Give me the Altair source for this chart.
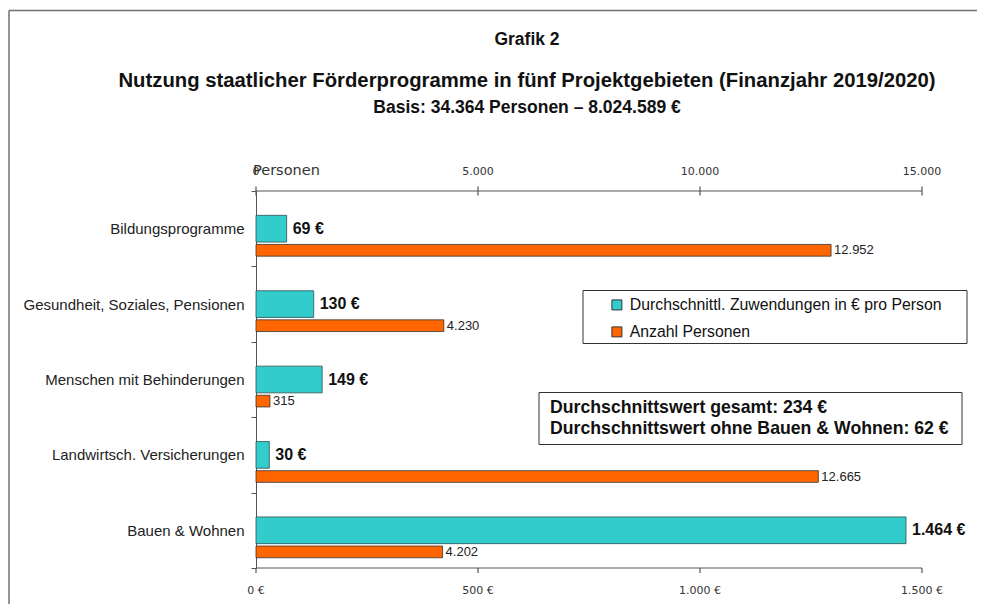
import altair as alt
import pandas as pd

# ---------------- data ----------------
categories = [
    "Bildungsprogramme",
    "Gesundheit, Soziales, Pensionen",
    "Menschen mit Behinderungen",
    "Landwirtsch. Versicherungen",
    "Bauen & Wohnen",
]
euro_per_person = [69, 130, 149, 30, 1464]
persons = [12952, 4230, 315, 12665, 4202]
series_names = ["Durchschnittl. Zuwendungen in € pro Person", "Anzahl Personen"]
series_colors = ["#33CCCC", "#FF6600"]
euro_ticks = [0, 500, 1000, 1500]
person_ticks = [0, 5000, 10000, 15000]
title_lines = [
    "Grafik 2",
    "Nutzung staatlicher Förderprogramme in fünf Projektgebieten (Finanzjahr 2019/2020)",
    "Basis: 34.364 Personen – 8.024.589 €",
]
person_axis_title = "Personen"
note_lines = [
    "Durchschnittswert gesamt: 234 €",
    "Durchschnittswert ohne Bauen & Wohnen: 62 €",
]


def de(v):
    return f"{v:,}".replace(",", ".")


euro_df = pd.DataFrame({
    "cat": categories,
    "value": euro_per_person,
    "series": series_names[0],
    "label": [de(v) + " €" for v in euro_per_person],
})
pers_df = pd.DataFrame({
    "cat": categories,
    "value": persons,
    "series": series_names[1],
    "label": [de(v) for v in persons],
})
euro_tick_df = pd.DataFrame({"value": euro_ticks, "label": [de(v) + " €" for v in euro_ticks]})
pers_tick_df = pd.DataFrame({"value": person_ticks, "label": [de(v) for v in person_ticks]})
one = pd.DataFrame({"a": [0]})

W, H = 666, 377
ORANGE_OFF = 21.6
AX = "#555555"

yscale = alt.Scale(paddingInner=0, paddingOuter=0)
y_axis_def = alt.Axis(
    orient="left", tickBand="extent", domainColor=AX, tickColor=AX,
    tickSize=5, labelFont="Liberation Sans", labelFontSize=15,
    labelColor="#222", labelPadding=7, labelLimit=300, title=None,
)
y_enc = alt.Y("cat:N", sort=categories, title=None, scale=yscale, axis=y_axis_def)

color = alt.Color(
    "series:N",
    scale=alt.Scale(domain=series_names, range=series_colors),
    legend=alt.Legend(
        title=None, orient="none", legendX=353, legendY=106, direction="vertical",
        symbolType="square", symbolSize=100, symbolStrokeColor="#333",
        symbolStrokeWidth=1, labelFont="Liberation Sans", labelFontSize=15.8,
        labelColor="#111", rowPadding=10, labelOffset=5, padding=0, labelLimit=400,
    ),
)

euro_scale = alt.Scale(domain=[0, 1500], nice=False)
pers_scale = alt.Scale(domain=[0, 15000], nice=False)
euro_x = alt.X("value:Q", scale=euro_scale, axis=None)
pers_x = alt.X("value:Q", scale=pers_scale, axis=None)

tick_label_style = dict(font="DejaVu Sans", fontSize=11, color="#333",
                        align="center", baseline="alphabetic")

# euro (bottom) axis: line, ticks, labels; teal bars and value labels
euro_domain = alt.Chart(one).mark_rule(stroke=AX, strokeWidth=1.2).encode(
    x=alt.value(0), x2=alt.value(W), y=alt.value(H)
)
euro_tickmarks = alt.Chart(euro_tick_df).mark_rule(stroke=AX, strokeWidth=1.2).encode(
    x=euro_x, y=alt.value(H), y2=alt.value(H + 5)
)
euro_ticklabels = alt.Chart(euro_tick_df).mark_text(**tick_label_style).encode(
    x=euro_x, y=alt.value(H + 25.6), text="label:N"
)
teal = alt.Chart(euro_df).mark_bar(height=26.7, stroke="#2f4f4f", strokeWidth=0.8).encode(
    x=euro_x, y=y_enc, color=color,
)
teal_text = alt.Chart(euro_df).mark_text(
    align="left", baseline="middle", dx=6, font="Liberation Sans",
    fontSize=16, fontWeight="bold", color="#111",
).encode(x=euro_x, y=y_enc, text="label:N")
euro_layer = alt.layer(euro_domain, euro_tickmarks, euro_ticklabels, teal, teal_text)

# persons (top) axis: line, ticks, labels; orange bars and value labels
pers_domain = alt.Chart(one).mark_rule(stroke=AX, strokeWidth=1.2).encode(
    x=alt.value(0), x2=alt.value(W), y=alt.value(0)
)
pers_tickmarks = alt.Chart(pers_tick_df).mark_rule(stroke=AX, strokeWidth=1.2).encode(
    x=pers_x, y=alt.value(-4.5), y2=alt.value(4.5)
)
pers_ticklabels = alt.Chart(pers_tick_df).mark_text(**tick_label_style).encode(
    x=pers_x, y=alt.value(-16.4), text="label:N"
)
pers_title = alt.Chart(one).mark_text(
    font="DejaVu Sans", fontSize=14.5, color="#333", align="left", baseline="alphabetic"
).encode(x=alt.value(-3), y=alt.value(-16.5), text=alt.value(person_axis_title))
orange = alt.Chart(pers_df).mark_bar(
    height=11.7, yOffset=ORANGE_OFF, stroke="#333", strokeWidth=0.8
).encode(x=pers_x, y=y_enc, color=color)
orange_text = alt.Chart(pers_df).mark_text(
    align="left", baseline="middle", dx=3, dy=ORANGE_OFF,
    font="Liberation Sans", fontSize=13, color="#222",
).encode(x=pers_x, y=y_enc, text="label:N")
pers_layer = alt.layer(pers_domain, pers_tickmarks, pers_ticklabels, pers_title,
                       orange, orange_text)

# ---------------- decorations ----------------
frame_top = alt.Chart(one).mark_rule(stroke="#707070", strokeWidth=1.5).encode(
    x=alt.value(-247), x2=alt.value(900), y=alt.value(-180.5)
)
frame_left = alt.Chart(one).mark_rule(stroke="#707070", strokeWidth=1.5).encode(
    x=alt.value(-247), y=alt.value(-180.5), y2=alt.value(700)
)

t1 = alt.Chart(one).mark_text(
    align="center", baseline="alphabetic", font="Liberation Sans", fontSize=17.5,
    fontWeight="bold", color="#111",
).encode(x=alt.value(271), y=alt.value(-146.5), text=alt.value(title_lines[0]))
t2 = alt.Chart(one).mark_text(
    align="center", baseline="alphabetic", font="Liberation Sans", fontSize=20.3,
    fontWeight="bold", color="#111",
).encode(x=alt.value(271), y=alt.value(-104), text=alt.value(title_lines[1]))
t3 = alt.Chart(one).mark_text(
    align="center", baseline="alphabetic", font="Liberation Sans", fontSize=17.5,
    fontWeight="bold", color="#111",
).encode(x=alt.value(271), y=alt.value(-78.5), text=alt.value(title_lines[2]))

legend_box = alt.Chart(one).mark_rect(fill="white", stroke="#333", strokeWidth=1).encode(
    x=alt.value(327), x2=alt.value(711), y=alt.value(99.5), y2=alt.value(152.5)
)
note_box = alt.Chart(one).mark_rect(fill="white", stroke="#333", strokeWidth=1).encode(
    x=alt.value(283), x2=alt.value(706), y=alt.value(201.5), y2=alt.value(253.5)
)
note_text = alt.Chart(one).mark_text(
    align="left", baseline="alphabetic", font="Liberation Sans", fontSize=17.7,
    fontWeight="bold", color="#111", lineHeight=21.3,
).encode(x=alt.value(294), y=alt.value(222.2), text=alt.value(note_lines))

chart = alt.layer(
    frame_top, frame_left, t1, t2, t3, legend_box, note_box, note_text,
    euro_layer, pers_layer,
).resolve_scale(x="independent").properties(
    width=W, height=H,
    background="white",
    autosize=alt.AutoSizeParams(type="none"),
    padding={"left": 248, "top": 183, "right": 55, "bottom": 36},
).configure_view(stroke=None, strokeWidth=0)

chart.save("out.html", embed_options={"renderer": "svg", "actions": False})
